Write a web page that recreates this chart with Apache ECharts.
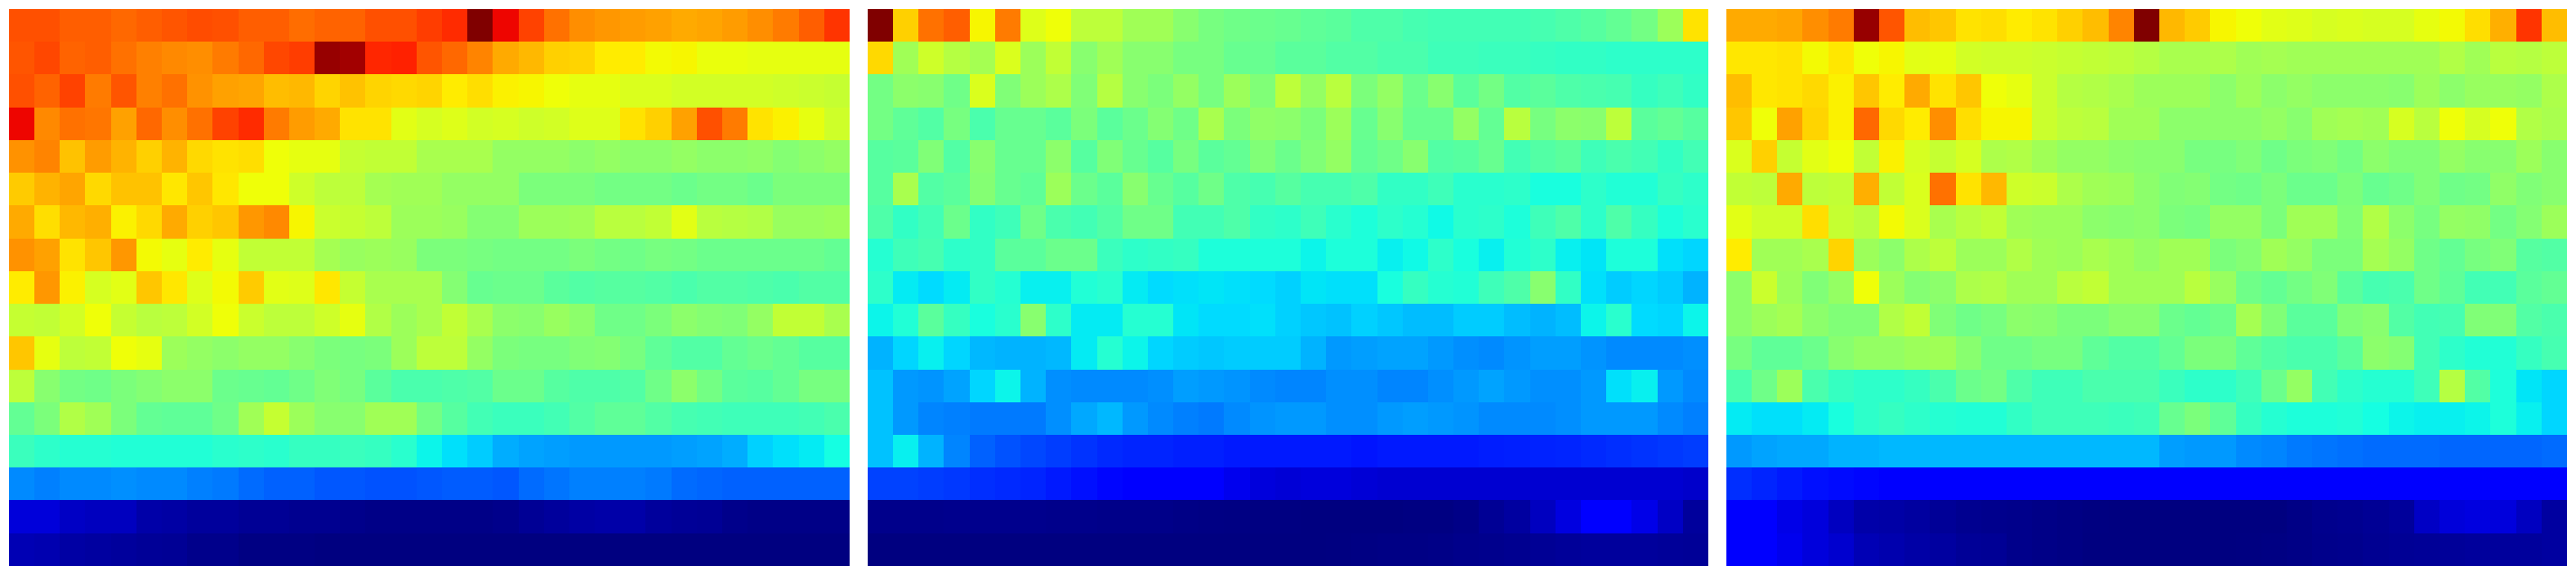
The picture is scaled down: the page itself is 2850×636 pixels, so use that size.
<!DOCTYPE html>
<html>
<head>
<meta charset="utf-8">
<style>html,body{margin:0;padding:0;background:#fff}#c{width:2850px;height:636px}</style>
<script src="https://cdn.jsdelivr.net/npm/echarts@6/dist/echarts.min.js"></script>
</head>
<body>
<div id="c"></div>
<script>
const panelA = [
[82.5,82.5,81,81,80,81,82,83,82.5,81,81,79.5,80.5,80.5,82.5,82.5,84.5,86.5,100,90.5,84,79,76,75,74.5,74,73,73.5,74.5,76,78,81,85.5],
[82,83.5,80.5,81,79,77.5,76.5,76,78,80,83.5,84.5,98,97,87,87.5,82,80,77,73,71.5,69,68.5,66,66,64.5,65,63.5,63.5,63,63,63,63],
[82.5,80.5,84,78,82,77.5,79,75.5,74,73.5,71,71.5,68.5,70.5,68.5,68,68.5,66,67.5,65.5,65,64,63,63,61.5,61.5,60.5,60.5,60.5,60.5,60,59.5,59],
[90.5,76.5,79,78.5,74,80,76,79,84,86.5,78,74.5,73,67,67,62.5,61,62,60.5,61,60,60.5,62,62,67,69,74,82.5,78,67,65.5,63,60],
[75.5,77,70.5,74.5,72,69,72,68,67,67.5,64,63,63,59,58.5,58.5,55.5,55.5,55.5,53,53,53,52,53,52,52,53,52,52,52.5,51,52,53],
[69.5,72,73.5,68,70.5,70.5,66.5,70,66.5,64,64,60,58,58,55,54.5,54.5,53,53,53,50,50,50,49,49,49,48,49,49,48,50,50,50],
[73,67.5,71.5,72.5,65.5,68,73,69,70,75,76.5,65,59.5,59,58,54,54,53.5,51,51,54,54,54.5,57.5,57.5,58.5,62.5,57.5,57,56.5,53.5,53.5,54],
[75.5,74,67,70,75,64.5,63,66,63,58.5,58.5,58.5,55,53.5,54,53.5,50,50,49.5,49,49,49,50,49,48.5,49.5,49,48,48,48,48,48,47],
[66,75,65.5,61,62.5,70,66.5,62,64.5,69.5,62.5,62,66.5,59,55.5,55.5,55.5,51,47.5,48,48,46,45,45.5,45.5,45,44,45,45,44.5,44,45,45],
[59,58.5,60.5,64,59,57.5,58,60.5,64,59.5,58,58,60,63,56.5,54,55.5,58.5,55.5,52,51.5,53.5,52,48.5,48.5,50,52,51,50.5,53,58.5,58.5,55.5],
[70,63,58,58.5,64,63,54,53,52,53,53,51.5,50,49.5,50,54,58,58,53,50,49.5,49.5,50.5,51,49.5,46.5,45,45,47,48,47,45.5,45.5],
[58,51.5,49,48.5,50,51,52,52,48,47.5,47,48.5,50.5,49.5,46,44,44,44.5,45,48,48,45.5,44.5,44.5,45,48.5,52,49,46,45.5,47,49.5,49.5],
[47,50,56.5,54.5,50,47,46.5,46.5,48.5,54.5,59,54,51.5,51.5,54.5,54.5,49,45.5,43,42,42,43,45,46.5,46.5,45,43.5,43,42.5,42.5,42.5,43,44],
[42,40.5,39.5,39.5,39,39,39,39,40,40.5,40,41.5,41.5,42,41.5,40,36.5,34.5,32.5,29.5,28.5,28,27.5,27.5,27.5,27.5,28,28.5,29.5,33,34.5,35.5,37.5],
[26,25,26,26,26.5,26,26,25,24.5,23,22,22,21,21,20.5,20.5,21,21.5,21.5,21,23,24,25,25,25,24.5,23,22.5,22,22,22,22,22],
[7.8,7.8,6,5.5,5.5,3.5,3.2,2.5,2.5,1.8,1.8,1.4,1.4,1,0.7,0.7,0.7,0.7,0.7,1,1.8,2.5,3.2,3.5,3.5,2.5,2,1.8,1,0.7,0.7,0.7,0.7],
[4.5,4.2,3.2,2.8,2.5,2,1.8,1,1,0.3,0.3,0.3,0,0,0,0,0,0,0,0,0,0,0,0,0,0,0,0,0,0,0,0,0]
];
const panelB = [
[100,69,79,81,65,78,62,64,58,58,54.5,54.5,51.5,49.5,48.5,48,47.5,46.5,46,44.5,44.5,43.5,43,43,43,43,43.5,44.5,45.5,47,49,54,67],
[68,54.5,60,57,55,61.5,54,58.5,51.5,54.5,51.5,51.5,49.5,49.5,47.5,47.5,46,46,45,45,44,44,42.5,42.5,42,42,41.5,41,41,40.5,40.5,40.5,40.5],
[49,52,51.5,48.5,61.5,50.5,54,56,50.5,57,51.5,50,53,49.5,54,50.5,58,53,57.5,50,53,48,51.5,46,49,45,46,44.5,44,43.5,41.5,42.5,41],
[49,46.5,45,49.5,44,47.5,47.5,46,50,46,48,51,48.5,55.5,50,52.5,52,50,54,47.5,51.5,47.5,47.5,53,47,57.5,49.5,52,51.5,58,46,47,45.5],
[45.5,46,50.5,45,51.5,47.5,47.5,52,45.5,50.5,47.5,45.5,49.5,46,47,50.5,48,50.5,53,47,48.5,51.5,45,45.5,47.5,43,45,46,42.5,44,43,41,43],
[45.5,55.5,45,46,51,47.5,46.5,54,48,46,51.5,47.5,45.5,48.5,44.5,43.5,45.5,43.5,43.5,44.5,41,41,42.5,40,40,40.5,38,38,40.5,39,39,41.5,40.5],
[44.5,41,43,48,41,42.5,48.5,44,43,45,48.5,48.5,43,43,44.5,41,40.5,42.5,40,38.5,40.5,39.5,37,40,40.5,38.5,42.5,44.5,40.5,44.5,41.5,38.5,40],
[39.5,42.5,43.5,40.5,41,46,46,48,48,42,40.5,41,41.5,38.5,38.5,38.5,38.5,36.5,38.5,38.5,36,37,40.5,38,36,39,40.5,36,35,38.5,38.5,34.5,33.5],
[40.5,35.5,34,35.5,41,39.5,36,36,39,40,35.5,34,34.5,35,34.5,34,33,35,34.5,34.5,38,41.5,39.5,39,42.5,44.5,51.5,41,34.5,32.5,33.5,32.5,30],
[36.5,39,46,41.5,38,40,51.5,40.5,35.5,35.5,39.5,39.5,35,34,34,34.5,33,32,31.5,33,32,31,31,32.5,32.5,31,30,31,36.5,40,34,33.5,36.5],
[30,33.5,36,33.5,30.5,30,30,30.5,35.5,39.5,36.5,33.5,32.5,32,32.5,32.5,32.5,30,27.5,28,28.5,28.5,27.5,26.5,26,27,28,28,27,26,26,26,26.5],
[31.5,27.5,27,28.5,33.5,36.5,30,26.5,26,26,26,26.5,28,27.5,27,26,25.5,25.5,26.5,26.5,25.5,25.5,26.5,27.5,28.5,27.5,26.5,26.5,27.5,34.5,36,27.5,26],
[31.5,27.5,25.5,25,24.5,24.5,24.5,26.5,29,30.5,27.5,26,25,24.5,26,27,27.5,27.5,26.5,26.5,27.5,28,27.5,27,26,26,26,26.5,27.5,27.5,27.5,26,25],
[31.5,36,30,25.5,22,20.5,19.5,18.5,17.5,16.5,16,16,15.5,15.5,15,15,15,15,15,14.5,15,15,15,15,15.3,15.5,15.8,16,16.5,17,17.5,18,18.5],
[19,19,18.5,18,17,16.5,16,15,14,13,12,11.5,11.5,11,9.5,8,7.5,8,8,7.5,7,7,7,7,7,7,7,7,7,7,7,7,6.5],
[1,1,1,1.2,1.2,1.2,1.2,1,1,0.8,0.8,0.8,0.6,0.4,0.3,0.2,0.2,0,0,0,0,0.2,0.2,0.7,1.8,2.8,5.6,8.3,11.5,11.5,9,6,2.5],
[0,0,0,0,0,0,0,0,0,0,0,0,0,0,0,0,0,0,0.1,0.3,0.5,0.5,0.7,1,1.2,1.4,1.8,2.2,2.5,2.5,2.5,2.2,2]
];
const panelC = [
[73,73,73.5,76,78,98,82,71,70,67,67.5,66,67,69,71,77,100,71.5,69.5,65,64,62.5,62,61,61.5,61,61,63,64.5,67.5,72.5,85.5,71],
[66.5,66.5,67,64.5,66.5,64,65,62.5,63,60.5,60,60,59.5,59,58.5,58,57,55.5,55.5,56,54.5,55,54.5,54.5,54.5,54.5,54.5,54.5,56.5,54.5,57.5,57,58],
[71,66.5,67,68,65.5,70,66,73,67,70,64,63,59.5,57,56.5,55.5,54,54,54,52,54,52,53,52,52,52,51.5,54,52,53.5,53.5,53,56],
[70,64,74,68.5,65.5,80,68,66,76,67.5,65,65,59.5,58,57.5,54.5,54.5,52,52,52,52,53,51.5,54.5,55,54.5,61,57.5,64,61,64,56.5,55.5],
[61.5,69,59,62.5,64,58.5,65.5,61,59,61,56,56.5,54.5,53,53,52,51.5,51.5,49.5,49.5,50.5,48.5,50,50.5,49,52,50.5,50.5,53,51.5,51.5,54,51.5],
[58.5,58,73,58,58.5,72.5,58.5,61.5,79,67,71.5,60,59.5,56,54.5,54,52,50.5,51,49,48.5,50,48,48,50,47.5,48.5,50.5,48.5,49,52.5,50.5,51.5],
[62.5,60,60,67.5,59,57.5,64.5,61.5,55.5,57.5,58.5,54.5,54,54,52,51.5,52,50,49.5,53,53,50,54.5,54.5,50.5,56.5,52,49.5,53,52.5,49,51,54],
[66,54.5,54.5,55.5,68.5,54,52,56,58,54,54,56.5,54.5,54,55.5,54.5,53,54.5,54.5,50,51,54.5,53,50,50,55,53,48.5,47,49.5,50.5,45.5,45],
[52,59.5,54,50.5,53,64,54,51,52,56,56.5,54.5,54.5,57.5,58.5,54.5,54.5,54.5,57.5,53.5,48.5,47,49,50.5,46,43.5,44,48.5,46.5,43,43,46,47],
[52,54,55,52,50.5,50.5,56.5,58.5,50.5,48.5,49.5,52,51.5,50,50,51.5,51.5,48,47,48,55,50.5,46,46,50.5,51.5,45,43,43.5,50.5,50.5,45,44],
[49.5,46.5,46.5,48,51.5,53,53,54,54.5,51.5,48.5,48.5,49.5,49.5,46.5,45,45,47,50,50,46.5,45,44,44,46,52,51,43,40.5,39,39,41.5,43.5],
[44,48.5,54,44,41.5,40.5,40.5,41.5,44,48,49,44.5,42.5,42.5,44,44,44,42,40.5,40.5,42.5,48,53,43,40.5,39.5,39.5,42.5,57,45,38.5,35,33.5],
[35.5,34.5,34.5,35.5,38,40.5,41.5,40.5,39.5,39,39,41,42.5,42.5,42.5,42,42.5,47.5,50,46.5,41.5,39.5,38.5,38.5,39,37.5,36.5,36,36,36.5,38.5,36,33.5],
[27.5,28.5,29,29,30,30,30.5,30.5,30.5,30.5,30.5,30.5,30.5,30.5,30.5,30.5,30.5,28,27.5,27.5,26,25.5,24.5,24,23.5,23,23,23,22.5,22.5,22.5,22.5,23],
[17,16,15,14,13.5,13,12,12,11.5,11.5,11.5,11.5,11.5,11.5,11.5,11.5,11.5,11.5,11.5,11.5,11.5,11.5,11.5,11.5,11.5,11.5,11.5,11.5,11.5,11.5,11.5,11.5,11.5],
[11.3,11.3,9,8,5.6,3.6,3.3,2.8,2,1.4,1.2,1,0.7,0.4,0.1,0,0,0,0,0,0,0,0.6,1.2,1.4,1.8,2.4,6,7.8,8.3,8,5.6,2.8],
[11.5,11.5,9.5,8,6.8,4.6,4,3.3,2.8,2,1.8,1,0.7,0.4,0,0,0,0,0,0,0.1,0.3,0.6,1,1.2,1.6,1.8,2,2.2,2.5,2.5,2.5,2.8]
];
const panels = [panelA, panelB, panelC];
const gridLefts = [10, 960, 1910];

function lerp(stops, t) {
  for (let i = 1; i < stops.length; i++) {
    if (t <= stops[i][0]) {
      const a = stops[i - 1], b = stops[i];
      return a[1] + (b[1] - a[1]) * (t - a[0]) / (b[0] - a[0]);
    }
  }
  return stops[stops.length - 1][1];
}
const jetR = [[0,0],[0.35,0],[0.66,1],[0.89,1],[1,0.5]];
const jetG = [[0,0],[0.125,0],[0.375,1],[0.64,1],[0.91,0],[1,0]];
const jetB = [[0,0.5],[0.11,1],[0.34,1],[0.65,0],[1,0]];
const jetColors = [];
for (let i = 0; i <= 400; i++) {
  const t = i / 400;
  const c = [jetR, jetG, jetB].map(s => Math.round(lerp(s, t) * 255));
  jetColors.push('rgb(' + c.join(',') + ')');
}

const cols = panelA[0].map((_, i) => i);
const rows = panelA.map((_, i) => i);

function renderCell(params, api) {
  const p = api.coord([api.value(0), api.value(1)]);
  const s = api.size([1, 1]);
  const snap = v => Math.round(v - 0.05);
  const x0 = snap(p[0] - s[0] / 2), x1 = snap(p[0] + s[0] / 2);
  const y0 = snap(p[1] - s[1] / 2), y1 = snap(p[1] + s[1] / 2);
  return {
    type: 'rect',
    shape: {x: x0, y: y0, width: x1 - x0, height: y1 - y0},
    style: {fill: api.visual('color')}
  };
}

const chart = echarts.init(document.getElementById('c'), null, {renderer: 'canvas'});
chart.setOption({
  animation: false,
  backgroundColor: '#ffffff',
  tooltip: {show: false},
  visualMap: {
    type: 'continuous', show: false, min: 0, max: 100, dimension: 2,
    seriesIndex: [0, 1, 2],
    inRange: {color: jetColors}
  },
  grid: gridLefts.map(l => ({left: l, top: 10, width: 930, height: 616})),
  xAxis: gridLefts.map((_, i) => ({type: 'category', gridIndex: i, data: cols, show: false})),
  yAxis: gridLefts.map((_, i) => ({type: 'category', gridIndex: i, data: rows, inverse: true, show: false})),
  series: panels.map((p, i) => ({
    type: 'custom',
    xAxisIndex: i,
    yAxisIndex: i,
    silent: true,
    clip: false,
    progressive: 0,
    encode: {x: 0, y: 1},
    renderItem: renderCell,
    data: p.flatMap((r, y) => r.map((v, x) => [x, y, v]))
  }))
});
</script>
</body>
</html>
